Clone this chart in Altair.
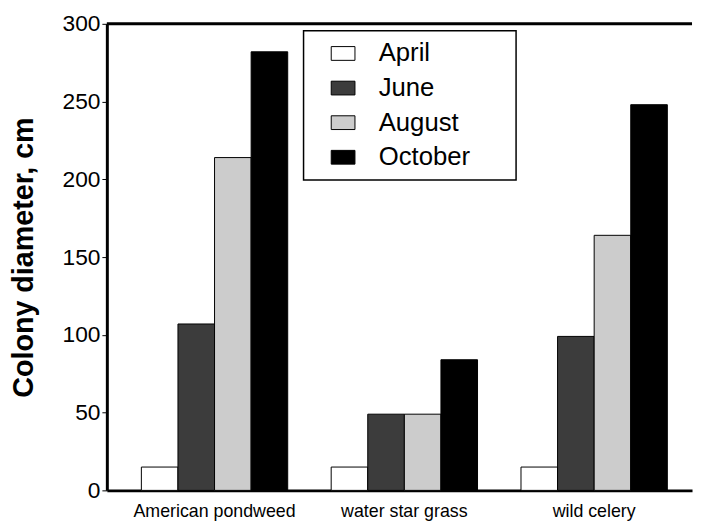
import altair as alt
import pandas as pd

species = ["American pondweed", "water star grass", "wild celery"]
months = ["April", "June", "August", "October"]
april = [15, 15, 15]
june = [107, 49, 99]
august = [214, 49, 164]
october = [282, 84, 248]
colors = ["#ffffff", "#3c3c3c", "#cccccc", "#000000"]
y_ticks = [0, 50, 100, 150, 200, 250, 300]

rows = []
for m, vals in zip(months, [april, june, august, october]):
    for s, v in zip(species, vals):
        rows.append({"species": s, "month": m, "value": v})
df = pd.DataFrame(rows)

FONT = "Liberation Sans"
NB = "\u00a0" * 5 + "\u200b"

bars = alt.Chart(df).mark_bar(stroke="black", strokeWidth=1, opacity=1).encode(
    x=alt.X("species:N", sort=species,
            scale=alt.Scale(paddingInner=0.229, paddingOuter=0.156, align=0.583),
            axis=alt.Axis(title=None, labelAngle=0, ticks=False, labelFontSize=18,
                          labelPadding=12, domainWidth=3, domainColor="black",
                          labelColor="black", labelFont=FONT)),
    xOffset=alt.XOffset("month:N", sort=months, scale=alt.Scale(paddingInner=0, paddingOuter=0)),
    y=alt.Y("value:Q", scale=alt.Scale(domain=[0, 300], nice=False),
            axis=alt.Axis(title="Colony diameter, cm", values=y_ticks, grid=False,
                          tickSize=5, tickColor="black", tickWidth=1,
                          labelFontSize=23, labelPadding=2, labelColor="black", labelFont=FONT,
                          domainWidth=3, domainColor="black",
                          titleFontSize=29, titleFont=FONT, titleFontWeight="bold",
                          titleColor="black", titlePadding=24)),
    fill=alt.Fill("month:N", sort=months,
                  scale=alt.Scale(domain=months, range=colors),
                  legend=alt.Legend(title=None, orient="none", legendX=199, legendY=7,
                                    symbolType="M-1,-0.58H1V0.58H-1Z", symbolSize=576,
                                    symbolStrokeColor="black", symbolStrokeWidth=1,
                                    symbolOpacity=1, labelFontSize=26, labelFont=FONT,
                                    labelColor="black", labelOffset=23, rowPadding=9,
                                    padding=10, symbolOffset=17, strokeColor="black",
                                    labelExpr="datum.label + '" + NB + "'",
                                    labelLimit=400)),
)

top = alt.Chart(pd.DataFrame({"y": [300]})).mark_rule(color="black", strokeWidth=3).encode(
    y=alt.Y("y:Q")
)

chart = alt.layer(bars, top).properties(
    width=592, height=472, autosize="none",
    padding={"left": 100, "top": 13, "right": 2, "bottom": 30},
).configure_view(stroke=None).configure_legend(strokeWidth=1.5)

chart.save("out.html", embed_options={"renderer": "svg", "actions": False})
